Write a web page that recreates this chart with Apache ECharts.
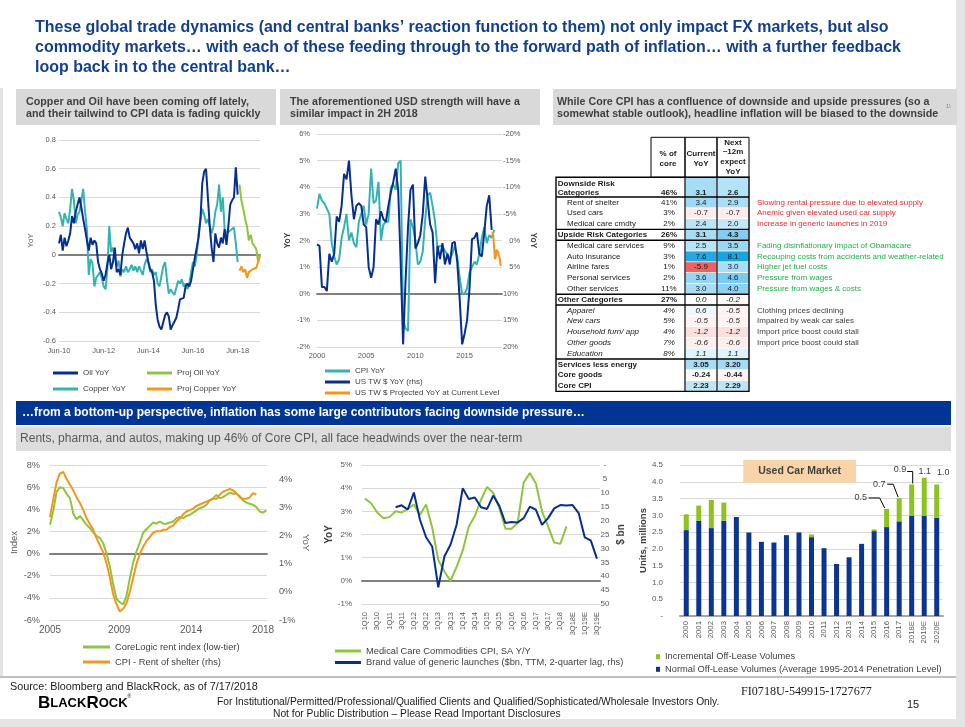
<!DOCTYPE html>
<html><head><meta charset="utf-8">
<script src="https://cdn.jsdelivr.net/npm/echarts@6/dist/echarts.min.js"></script>
<style>html,body{margin:0;padding:0;background:#fff}#c{width:965px;height:727px}</style>
</head><body><div id="c"></div><script>
// ---------------- DATA ----------------
const titleLines = [
  'These global trade dynamics (and central banks\u2019 reaction function to them) not only impact FX markets, but also',
  'commodity markets\u2026 with each of these feeding through to the forward path of inflation\u2026 with a further feedback',
  'loop back in to the central bank\u2026'
];
const panelTitles = [
  ['Copper and Oil have been coming off lately,', 'and their tailwind to CPI data is fading quickly'],
  ['The aforementioned USD strength will have a', 'similar impact in 2H 2018'],
  ['While Core CPI has a confluence of downside and upside pressures (so a', 'somewhat stable outlook), headline inflation will be biased to the downside']
];
const bannerText = '\u2026from a bottom-up perspective, inflation has some large contributors facing downside pressure\u2026';
const subHeaderText = 'Rents, pharma, and autos, making up 46% of Core CPI, all face headwinds over the near-term';

// Chart 1: monthly from Jun-10
const oilYoY = [0.08,0.14,0.03,0.12,0.06,0.10,0.15,0.27,0.22,0.30,0.35,0.40,
 0.33,0.25,0.18,0.10,0.03,0.12,0.07,0.10,0.08,-0.05,-0.10,-0.13,
 -0.18,-0.14,-0.06,0.0,-0.10,-0.05,0.05,-0.12,-0.10,-0.14,0.0,0.08,
 0.15,0.19,0.12,0.13,0.08,0.04,0.08,0.01,0.10,0.04,0.10,0.02,
 -0.05,-0.10,-0.12,-0.18,-0.35,-0.45,-0.50,-0.52,-0.53,-0.42,-0.40,-0.43,
 -0.52,-0.49,-0.50,-0.44,-0.38,-0.31,-0.30,-0.30,-0.22,-0.20,-0.22,-0.18,
 -0.10,-0.02,0.05,0.12,0.25,0.50,0.58,0.60,0.40,0.20,0.05,-0.05,
 0.15,0.08,0.05,0.12,0.08,0.18,0.07,0.20,0.35,0.38,0.40,0.61,0.42];
const copperYoY = [0.30,0.26,0.20,0.29,0.25,0.22,0.32,0.46,0.38,0.22,0.28,0.30,
 0.38,0.46,0.30,0.18,-0.14,-0.03,-0.06,-0.22,-0.16,-0.14,-0.12,-0.16,
 -0.22,-0.24,-0.10,0.20,0.02,0.05,-0.02,-0.08,-0.04,-0.15,-0.10,-0.12,
 -0.08,-0.12,-0.10,-0.07,-0.11,-0.08,-0.12,-0.08,-0.11,-0.14,-0.07,-0.03,
 -0.05,-0.12,-0.10,-0.14,-0.12,-0.20,-0.22,-0.15,-0.08,-0.05,-0.17,-0.27,
 -0.24,-0.26,-0.28,-0.23,-0.18,-0.20,-0.17,-0.22,-0.20,-0.24,-0.20,-0.12,
 -0.05,-0.08,0.00,0.15,0.25,0.32,0.28,0.22,0.25,0.20,0.15,0.20,
 0.30,0.35,0.49,0.30,0.40,0.18,0.15,0.14,0.17,0.18,0.19,0.08,-0.05];
const projOilYoY = [0.49,0.38,0.32,0.25,0.20,0.10,0.14,0.08,0.06,0.04,-0.05,0.00];
const projCopperYoY = [-0.11,-0.08,-0.12,-0.10,-0.16,-0.12,-0.11,-0.10,-0.10,-0.09,-0.05,0.00];
const c1StartYear = 10;   // Jun-10

// Chart 2: quarterly from 2000
const cpiYoY = [3.2,3.75,3.5,3.4,3.2,3.0,1.9,1.4,1.1,1.3,
 2.1,2.5,3.0,2.0,2.3,1.9,1.75,2.7,3.0,3.3,
 2.6,3.0,4.7,3.4,3.5,4.2,2.0,2.6,2.7,2.7,
 4.0,4.1,3.9,4.9,5.0,-1.0,-1.3,-1.4,2.8,2.5,
 2.0,1.1,1.2,1.6,2.8,3.7,3.8,3.3,2.7,1.7,
 1.8,1.8,1.6,1.5,1.3,1.5,1.8,1.4,0.6,0.0,
 0.0,0.2,0.8,1.0,1.2,1.1,1.5,2.1,2.5,1.9,
 2.2,2.1,2.4];
const usdYoY = [0.75,1.0,8.75,8.75,9.5,2.5,4.0,2.5,-4.5,-3.5,
 -6.5,-12.5,-11.5,-15.0,-8.5,-4.0,-6.5,-7.0,-6.5,-3.0,
 -2.5,5.0,7.0,5.0,-4.0,-3.0,-5.5,-4.0,-3.5,-6.5,
 -9.0,-11.0,-13.5,-9.5,4.0,19.5,7.5,-2.5,-9.5,-10.5,
 1.5,0.5,-1.0,-5.0,-12.0,-7.5,-3.0,-1.5,8.0,1.0,
 3.5,0.5,4.5,2.5,4.5,0.5,0.25,4.0,11.0,19.5,
 17.5,15.0,9.0,-0.25,-0.5,-1.5,2.5,3.0,-1.5,-6.5,
 -8.5,-2.0];
const usdProjYoY = [-1.6,-1.0,1.5,3.5,3.0,1.75,1.5,2.25,2.0,3.5,4.75]; // monthly from Nov-2017
const c2Start = 2000, usdProjStart = 2017 + 10/12;

// Table
const tblHeaders = ['% of\ncore', 'Current\nYoY', 'Next\n~12m\nexpect\nYoY'];
const tblNames = ['Downside Risk\nCategories','Rent of shelter','Used cars','Medical care cmdty','Upside Risk Categories',
 'Medical care services','Auto insurance','Airline fares','Personal services','Other services','Other Categories',
 'Apparel','New cars','Household furn/ app','Other goods','Education','Services less energy','Core goods','Core CPI'];
const tblShare = ['46%','41%','3%','2%','26%','9%','3%','1%','2%','11%','27%','4%','5%','4%','7%','8%','','',''];
const tblCurrent = ['3.1','3.4','-0.7','2.4','3.1','2.5','7.6','-5.9','3.6','3.0','0.0','0.6','-0.5','-1.2','-0.6','1.1','3.05','-0.24','2.23'];
const tblNext = ['2.6','2.9','-0.7','2.0','4.3','3.5','8.1','3.0','4.6','4.0','-0.2','-0.5','-0.5','-1.2','-0.6','1.1','3.20','-0.44','2.29'];
const tblNotes = ['','Slowing rental pressure due to elevated supply','Anemic given elevated used car supply','Increase in generic launches in 2019','',
 'Fading disinflationary impact of Obamacare','Recouping costs from accidents and weather-related','Higher jet fuel costs','Pressure from wages','Pressure from wages & costs','',
 'Clothing prices declining','Impaired by weak car sales','Import price boost could stall','Import price boost could stall','','','',''];
const tblKind = ['group','down','down','down','group','up','up','up','up','up','groupI','other','other','other','other','other','total','total','total'];

// Chart 4: every 2.5 months from Jan-2005
const rentIndexLowTier = [2.6,3.9,5.6,6.0,5.9,5.4,5.0,3.6,3.1,3.4,3.0,2.6,2.3,1.9,1.6,1.4,0.9,0.0,-1.2,-2.8,
 -4.1,-4.4,-4.6,-3.8,-2.2,-0.8,0.2,1.0,1.9,2.2,2.5,2.8,2.7,2.9,2.7,2.7,2.8,2.9,3.2,3.3,
 3.2,3.4,3.5,3.7,3.9,4.1,4.2,4.4,4.8,5.0,5.3,5.0,5.1,5.3,5.5,5.4,5.4,5.2,4.8,4.6,
 4.5,4.4,4.2,3.8,3.7,3.9];
const cpiRentShelter = [2.65,3.3,3.9,4.2,4.25,4.0,3.8,3.6,3.35,3.15,2.9,2.6,2.4,2.2,1.9,1.65,1.4,1.0,0.5,-0.1,
 -0.45,-0.7,-0.6,-0.4,0.0,0.5,1.0,1.35,1.6,1.8,1.95,2.1,2.15,2.15,2.2,2.2,2.3,2.35,2.5,2.6,
 2.75,2.85,2.9,2.95,3.05,3.1,3.15,3.2,3.25,3.3,3.3,3.45,3.55,3.6,3.65,3.6,3.5,3.35,3.3,3.3,
 3.35,3.5,3.45];
const c4StepMonths = 2.5;
const c4TickMonths = [0, 52, 106, 160];
const c4TickLabels = ['2005', '2009', '2014', '2018'];

// Chart 5: quarterly
const medQuarters = ['1Q10','2Q10','3Q10','4Q10','1Q11','2Q11','3Q11','4Q11','1Q12','2Q12','3Q12','4Q12',
 '1Q13','2Q13','3Q13','4Q13','1Q14','2Q14','3Q14','4Q14','1Q15','2Q15','3Q15','4Q15','1Q16','2Q16','3Q16','4Q16',
 '1Q17','2Q17','3Q17','4Q17','1Q18','2Q18','3Q18E','4Q18E','1Q19E','2Q19E','3Q19E'];
const medCareCPI = [3.55,3.35,2.95,2.7,2.75,3.0,2.95,3.1,3.3,2.85,3.3,2.3,0.9,0.4,0.0,0.6,1.3,2.35,2.8,3.5,
 4.05,3.8,3.15,2.25,2.25,2.5,4.25,4.65,4.2,3.0,2.35,1.65,1.6,2.35];
const brandValue = [null,null,null,null,null,15.2,14.5,16.0,9.9,19.7,26.0,29.3,44.0,32.9,28.7,21.5,8.4,12.2,11.7,15.2,
 15.8,11.0,14.7,20.9,20.5,20.7,19.1,15.0,16.1,21.5,19.1,15.6,14.4,14.6,14.4,17.3,26.0,27.2,33.7];

// Chart 6
const carYears = ['2000','2001','2002','2003','2004','2005','2006','2007','2008','2009','2010','2011','2012','2013','2014','2015','2016','2017','2018E','2019E','2020E'];
const normalOffLease = [2.56,2.84,2.62,2.84,2.95,2.49,2.21,2.19,2.41,2.49,2.35,2.02,1.55,1.75,2.15,2.53,2.65,2.82,2.99,2.99,2.93];
const incrementalOffLease = [0.47,0.45,0.84,0.54,0,0.01,0,0,0,0,0.08,0,0,0,0,0.05,0.54,0.69,0.93,1.13,0.99];
const labeledCarYears = ['2016','2017','2018E','2019E','2020E'];

const footerSource = 'Source: Bloomberg and BlackRock, as of 7/17/2018';
const footerLines = ['For Institutional/Permitted/Professional/Qualified Clients and Qualified/Sophisticated/Wholesale Investors Only.',
  'Not for Public Distribution \u2013 Please Read Important Disclosures'];
const footerCode = 'FI0718U-549915-1727677';
const pageNumber = '15';

// ---------------- STYLE / HELPERS ----------------
const FONT = "'Liberation Sans', Arial, Helvetica, sans-serif";
const mctx = document.createElement('canvas').getContext('2d');
function hasFont(name){
  const s = 'abcdefghijklmnopqrstuvwxyzABCDEFGHIJ0123456789';
  mctx.font = '20px monospace'; const w1 = mctx.measureText(s).width;
  mctx.font = "20px '" + name + "', monospace"; const w2 = mctx.measureText(s).width;
  return Math.abs(w1 - w2) > 0.5;
}
const NARROW = hasFont('Liberation Sans Narrow') ? "'Liberation Sans Narrow', " + FONT : FONT;
function fitSize(text, weight, family, target){
  mctx.font = weight + ' 100px ' + family;
  return 100 * target / mctx.measureText(text).width;
}
const C = { navy:'#062F8F', teal:'#35B3B0', green:'#8CC63F', orange:'#F7941D', grid:'#D9D9D9', zero:'#7F7F7F', lab:'#595959', txt:'#404040' };

function T(x, y, text, o){
  return { type:'text', x:x, y:y, silent:true, z:20,
    style: Object.assign({ text:text, fontFamily:FONT, fontSize:8, fill:C.txt, align:'left', verticalAlign:'middle' }, o || {}) };
}
function R(x, y, w, h, fill, o){
  return Object.assign({ type:'rect', silent:true, z:1, shape:{x:x, y:y, width:w, height:h}, style:{ fill:fill } }, o || {});
}
function Ln(x1, y1, x2, y2, stroke, lw){
  return { type:'line', silent:true, z:25, shape:{x1:x1, y1:y1, x2:x2, y2:y2}, style:{ stroke:stroke, lineWidth:lw } };
}
function mix(a, b, t){
  const pa = [1,3,5].map(i => parseInt(a.substr(i,2),16)), pb = [1,3,5].map(i => parseInt(b.substr(i,2),16));
  return 'rgb(' + pa.map((v,i) => Math.round(v + (pb[i]-v)*t)).join(',') + ')';
}
function heat(s){
  const v = parseFloat(s);
  if (v >= 0) return mix('#FFFFFF', '#0A9FE2', Math.min(v/8.5, 1));
  return mix('#FFFFFF', '#EE5A5A', Math.min(-v/6.2, 1));
}

// ---------------- GRAPHICS ----------------
const G = [];
// page frame
G.push(R(956, 0, 9, 727, '#E4E4E4', {z:-5}));
G.push(R(0, 719, 965, 8, '#E4E4E4', {z:-5}));
G.push(R(0, 88, 3, 589, '#E4E4E4', {z:-5}));
G.push(R(0, 676, 956, 2, '#BFBFBF', {z:-5}));

// title
const tSize = fitSize(titleLines[0], 'bold', NARROW, 854);
titleLines.forEach((t, i) => G.push(T(35, 28 + i*20, t, { fontFamily:NARROW, fontWeight:'bold', fontSize:tSize, fill:'#123F91' })));

// panel headers
const hdrBoxes = [[16, 276, 26, 223], [280, 540, 290, 230], [553, 957, 557, 373]];
hdrBoxes.forEach((b, k) => {
  G.push(R(b[0], 89, b[1]-b[0], 36, '#D9D9D9', {z:-2}));
  const fs = fitSize(panelTitles[k][0], 'bold', FONT, b[3]);
  panelTitles[k].forEach((t, j) => G.push(T(b[2], 102 + j*12, t, { fontWeight:'bold', fontSize:fs, fill:C.txt })));
});
G.push(T(946, 106, '1\\', { fontSize:5.5, fill:'#808080' }));

// banner and subheader
G.push(R(16, 401, 935, 24, '#003594', {z:-2}));
G.push(T(22, 413, bannerText, { fontWeight:'bold', fill:'#FFFFFF', fontSize:fitSize(bannerText, 'bold', FONT, 563) }));
G.push(R(16, 426.5, 935, 24.5, '#DDDDDD', {z:-2}));
G.push(T(20, 439, subHeaderText, { fill:'#595959', fontSize:fitSize(subHeaderText, 'normal', FONT, 503) }));

// table
(function(){
  const xL = 556, xP = 651, xC = 685, xN = 717, xR = 749;
  const rowTop = i => i === 0 ? 177.3 : 197 + (i-1)*10.8;
  const rowH = i => i === 0 ? 19.7 : 10.8;
  const yEnd = rowTop(tblNames.length);
  // header boxes
  [[xP, xC], [xC, xN], [xN, xR]].forEach(c => G.push(R(c[0], 137.3, c[1]-c[0], 40, 'none', {z:25, style:{fill:'none', stroke:'#000', lineWidth:1}})));
  const hdrCenters = [(xP+xC)/2, (xC+xN)/2, (xN+xR)/2];
  tblHeaders.forEach((h, k) => {
    const ls = h.split('\n');
    const y0 = ls.length === 2 ? 153.7 : 142.5;
    ls.forEach((s, j) => G.push(T(hdrCenters[k], y0 + j*9.6, s, { align:'center', fontWeight:'bold', fill:'#1A1A1A' })));
  });
  const noteCol = { down:'#EE2A2A', up:'#20B04B', other:'#404040' };
  tblNames.forEach((name, i) => {
    const top = rowTop(i), h = rowH(i), kind = tblKind[i];
    const yc = i === 0 ? 192.3 : top + h/2;
    G.push(R(xC + 0.6, top + 0.4, xN - xC - 1.2, h - 0.8, heat(tblCurrent[i]), {z:2}));
    G.push(R(xN + 0.6, top + 0.4, xR - xN - 1.2, h - 0.8, heat(tblNext[i]), {z:2}));
    const isBold = kind === 'group' || kind === 'groupI' || kind === 'total';
    const isItal = kind === 'other';
    const labX = isBold ? xL + 1.8 : xL + 11;
    const base = { fontWeight: isBold ? 'bold' : 'normal', fontStyle: isItal ? 'italic' : 'normal', fill:'#1A1A1A' };
    if (i === 0) {
      name.split('\n').forEach((s, j) => G.push(T(labX, 183.3 + j*9, s, base)));
    } else {
      G.push(T(labX, yc, name, base));
    }
    G.push(T((xP+xC)/2 + 1, yc, tblShare[i], Object.assign({}, base, { align:'center' })));
    const vStyle = Object.assign({}, base, { align:'center' });
    if (kind === 'groupI') { vStyle.fontWeight = 'normal'; vStyle.fontStyle = 'italic'; }
    G.push(T((xC+xN)/2, yc, tblCurrent[i], vStyle));
    G.push(T((xN+xR)/2, yc, tblNext[i], vStyle));
    if (tblNotes[i]) G.push(T(757, yc, tblNotes[i], { fill: noteCol[kind] }));
  });
  // borders
  G.push(R(xL, 177.3, xR - xL, yEnd - 177.3, 'none', {z:25, style:{fill:'none', stroke:'#000', lineWidth:1.4}}));
  G.push(Ln(xC, 177.3, xC, yEnd, '#000', 1.2));
  G.push(Ln(xN, 177.3, xN, yEnd, '#000', 1.2));
  tblKind.forEach((k, i) => {
    if (i > 0 && (k !== tblKind[i-1]) && !(k.indexOf('group') === 0 && tblKind[i-1] === 'total'))
      G.push(Ln(xL, rowTop(i), xR, rowTop(i), '#000', 1.4));
  });
})();

// Used car market box
G.push(R(743.3, 460, 112.7, 22.7, '#F9D4A8', {z:3}));
G.push(T(799.6, 471.3, 'Used Car Market', { align:'center', fontWeight:'bold', fontSize:10.5, fill:'#404040' }));

// footer
G.push(T(10, 687, footerSource, { fontFamily:NARROW, fontSize:fitSize(footerSource, 'normal', NARROW, 248), fill:'#1A1A1A' }));
const fz = fitSize(footerLines[0], 'normal', NARROW, 503);
G.push(T(217, 702.5, footerLines[0], { fontFamily:NARROW, fontSize:fz, fill:'#1A1A1A' }));
G.push(T(273, 714.5, footerLines[1], { fontFamily:NARROW, fontSize:fz, fill:'#1A1A1A' }));
G.push(T(741, 692, footerCode, { fontFamily:"'Liberation Serif', 'Times New Roman', serif", fontSize:fitSize(footerCode, 'normal', "'Liberation Serif', serif", 131), fill:'#1A1A1A' }));
G.push(T(907, 705, pageNumber, { fontFamily:NARROW, fontSize:11, fill:'#1A1A1A' }));
G.push({ type:'text', x:38, y:703, silent:true, z:20, style:{ text:'{a|B}{b|LACK}{a|R}{b|OCK}{c|\u00AE}', verticalAlign:'middle', align:'left',
  rich:{ a:{ fontFamily:FONT, fontWeight:'bold', fontSize:17, fill:'#000' }, b:{ fontFamily:FONT, fontWeight:'bold', fontSize:13, fill:'#000' }, c:{ fontFamily:FONT, fontSize:5, fill:'#000', verticalAlign:'top' } } } });

// ---------------- CHART OPTION ----------------
const axLab = (o) => Object.assign({ fontFamily:FONT, fontSize:7.5, color:C.lab }, o || {});
const noLine = { show:false, onZero:false };
const zeroAxis = (g) => ({ gridIndex:g, type:'value', position:'bottom', min:0, max:1, axisLabel:{show:false}, axisTick:{show:false}, splitLine:{show:false},
  axisLine:{ show:true, onZero:true, lineStyle:{ color:C.zero, width:2 } } });
const split = { show:true, lineStyle:{ color:C.grid, width:1 } };
const lineSeries = (name, xi, yi, data, color, z) => ({ name:name, type:'line', xAxisIndex:xi, yAxisIndex:yi, data:data, showSymbol:false, symbol:'none',
  lineStyle:{ color:color, width:2 }, itemStyle:{ color:color }, silent:true, z:z || 2, connectNulls:false });
const legendItem = (name, left, yc, fs, w, icon, ih) => ({ data:[name], left:left, top:yc - 5.5, padding:0, itemWidth:w, itemHeight:ih || 3, icon:icon || 'rect',
  selectedMode:false, textStyle:{ fontFamily:FONT, fontSize:fs, color:C.txt, lineHeight:11 } });
const yName = (o) => Object.assign({ fontFamily:FONT, color:C.lab, fontSize:8 }, o);
const labelOffsets = { '2016':[-26,-11], '2017':[-20,-14], '2018E':[-11.6,-15], '2019E':[0.5,-6], '2020E':[6.6,-12] };

const option = {
  animation:false,
  backgroundColor:'#ffffff',
  grid:[
    { left:59, top:140, width:201, height:201 },
    { left:317, top:134, width:185, height:213 },
    { left:50, top:465, width:217, height:155 },
    { left:362, top:465, width:238, height:139 },
    { left:680, top:465, width:263, height:151 }
  ],
  xAxis:[
    { gridIndex:0, type:'value', min:0, max:108, interval:24, axisLine:noLine, axisTick:{show:false}, splitLine:{show:false},
      axisLabel:axLab({ margin:6, formatter:v => (v % 24 === 0) ? 'Jun-' + String(c1StartYear + v/12).padStart(2,'0') : '' }) },
    zeroAxis(0),
    { gridIndex:1, type:'value', min:c2Start, max:2018.8, interval:5, axisLine:noLine, axisTick:{show:false}, splitLine:{show:false},
      axisLabel:axLab({ margin:5, formatter:v => (Math.abs(v % 5) < 1e-6) ? String(v) : '' }) },
    zeroAxis(1),
    { gridIndex:2, type:'value', min:0, max:163, axisLine:noLine, axisTick:{show:false}, splitLine:{show:false},
      axisLabel:axLab({ fontSize:10, margin:5, customValues:c4TickMonths, formatter:v => { const k = c4TickMonths.indexOf(v); return k >= 0 ? c4TickLabels[k] : ''; } }) },
    zeroAxis(2),
    { gridIndex:3, type:'category', data:medQuarters, boundaryGap:true, axisLine:noLine, axisTick:{show:false}, splitLine:{show:false},
      axisLabel:axLab({ rotate:90, interval:1, margin:8 }) },
    zeroAxis(3),
    { gridIndex:4, type:'category', data:carYears, boundaryGap:true, axisTick:{show:false}, splitLine:{show:false},
      axisLine:{ show:true, lineStyle:{ color:'#A6A6A6', width:2 } }, axisLabel:axLab({ rotate:90, interval:0, margin:5, fontSize:7.8 }) }
  ],
  yAxis:[
    { gridIndex:0, type:'value', min:-0.6, max:0.8, interval:0.2, axisLine:noLine, axisTick:{show:false}, splitLine:split,
      axisLabel:axLab({ margin:3, formatter:v => Math.abs(v) < 1e-9 ? '0' : v.toFixed(1) }),
      name:'YoY', nameLocation:'middle', nameGap:24, nameTextStyle:yName({ fontSize:8 }) },
    { gridIndex:1, type:'value', min:-2, max:6, interval:1, axisLine:noLine, axisTick:{show:false}, splitLine:split,
      axisLabel:axLab({ margin:7, formatter:'{value}%' }),
      name:'YoY', nameLocation:'middle', nameGap:25, nameTextStyle:yName({ fontSize:8.5, fontWeight:'bold', color:C.txt }) },
    { gridIndex:1, type:'value', position:'right', inverse:true, min:-20, max:20, interval:5, axisLine:noLine, axisTick:{show:false}, splitLine:{show:false},
      axisLabel:axLab({ margin:1, formatter:v => ((v >= 0 && v < 10) ? '\u2007 ' : '') + v + '%' }),
      name:'YoY', nameLocation:'middle', nameGap:27, nameRotate:-90, nameTextStyle:yName({ fontSize:8.5, fontWeight:'bold', color:C.txt }) },
    { gridIndex:2, type:'value', min:-6, max:8, interval:2, axisLine:noLine, axisTick:{show:false}, splitLine:split,
      axisLabel:axLab({ fontSize:9.2, margin:10, formatter:'{value}%' }),
      name:'Index', nameLocation:'middle', nameGap:30, nameTextStyle:yName({ fontSize:9.5 }) },
    { gridIndex:2, type:'value', position:'right', min:-1, max:4.5, interval:1, axisLine:noLine, axisTick:{show:false}, splitLine:{show:false},
      axisLabel:axLab({ fontSize:9.2, margin:12, formatter:v => Number.isInteger(v) ? v + '%' : '' }),
      name:'YoY', nameLocation:'middle', nameGap:34, nameRotate:-90, nameTextStyle:yName({ fontSize:9.5 }) },
    { gridIndex:3, type:'value', min:-1, max:5, interval:1, axisLine:noLine, axisTick:{show:false}, splitLine:split,
      axisLabel:axLab({ fontSize:8, margin:10, formatter:'{value}%' }),
      name:'YoY', nameLocation:'middle', nameGap:27, nameTextStyle:yName({ fontSize:10, fontWeight:'bold', color:C.txt }) },
    { gridIndex:3, type:'value', position:'right', inverse:true, min:0, max:50, interval:5, axisLine:noLine, axisTick:{show:false}, splitLine:{show:false},
      axisLabel:axLab({ fontSize:8, margin:5, align:'center', formatter:v => v === 0 ? '-' : String(v) }),
      name:'$ bn', nameLocation:'middle', nameGap:16, nameRotate:90, nameTextStyle:yName({ fontSize:10, fontWeight:'bold', color:C.txt }) },
    { gridIndex:4, type:'value', min:0, max:4.5, interval:0.5, axisLine:noLine, axisTick:{show:false}, splitLine:split,
      axisLabel:axLab({ fontSize:8, margin:17, formatter:v => v === 0 ? '-' : v.toFixed(1) }),
      name:'Units, millions', nameLocation:'middle', nameGap:31, nameTextStyle:yName({ fontSize:9.5, fontWeight:'bold', color:C.txt }) }
  ],
  legend:[
    legendItem('Oil YoY', 53, 373, 8, 25),
    legendItem('Proj Oil YoY', 147, 373, 8, 25),
    legendItem('Copper YoY', 53, 389, 8, 25),
    legendItem('Proj Copper YoY', 147, 389, 8, 25),
    legendItem('CPI YoY', 325, 371, 8, 25),
    legendItem('US TW $ YoY (rhs)', 325, 382, 8, 25),
    legendItem('US TW $ Projected YoY at Current Level', 325, 393, 8, 25),
    legendItem('CoreLogic rent index (low-tier)', 83, 647, 9.3, 27),
    legendItem('CPI - Rent of shelter (rhs)', 83, 662, 9.3, 27),
    legendItem('Medical Care Commodities CPI, SA Y/Y', 335, 651, 9.3, 26),
    legendItem('Brand value of generic launches ($bn, TTM, 2-quarter lag, rhs)', 335, 662.5, 9.3, 26),
    legendItem('Incremental Off-Lease Volumes', 656, 656.7, 9.3, 4, 'rect', 5),
    legendItem('Normal Off-Lease Volumes (Average 1995-2014 Penetration Level)', 656, 669.3, 9.3, 4, 'rect', 5)
  ],
  series:[
    lineSeries('Copper YoY', 0, 0, copperYoY.map((v,i) => [i, v]), C.teal),
    lineSeries('Oil YoY', 0, 0, oilYoY.map((v,i) => [i, v]), C.navy, 3),
    lineSeries('Proj Oil YoY', 0, 0, projOilYoY.map((v,i) => [oilYoY.length + i, v]), C.green),
    lineSeries('Proj Copper YoY', 0, 0, projCopperYoY.map((v,i) => [copperYoY.length + i, v]), C.orange),

    lineSeries('CPI YoY', 2, 1, cpiYoY.map((v,i) => [c2Start + i/4, v]), C.teal),
    lineSeries('US TW $ YoY (rhs)', 2, 2, usdYoY.map((v,i) => [c2Start + i/4, v]), C.navy, 3),
    lineSeries('US TW $ Projected YoY at Current Level', 2, 2, usdProjYoY.map((v,i) => [usdProjStart + i/12, v]), C.orange),

    lineSeries('CoreLogic rent index (low-tier)', 4, 3, rentIndexLowTier.map((v,i) => [i*c4StepMonths, v]), C.green),
    lineSeries('CPI - Rent of shelter (rhs)', 4, 4, cpiRentShelter.map((v,i) => [i*c4StepMonths, v]), C.orange, 3),

    lineSeries('Medical Care Commodities CPI, SA Y/Y', 6, 5, medCareCPI, C.green),
    lineSeries('Brand value of generic launches ($bn, TTM, 2-quarter lag, rhs)', 6, 6, brandValue, C.navy, 3),

    { name:'Normal Off-Lease Volumes (Average 1995-2014 Penetration Level)', type:'bar', stack:'cars', xAxisIndex:8, yAxisIndex:7,
      data:normalOffLease, barWidth:5, itemStyle:{ color:'#0B3592' }, silent:true },
    { name:'Incremental Off-Lease Volumes', type:'bar', stack:'cars', xAxisIndex:8, yAxisIndex:7, barWidth:5, itemStyle:{ color:'#8DC21F' }, silent:true,
      data:incrementalOffLease.map((v,i) => labeledCarYears.indexOf(carYears[i]) >= 0
        ? { value:v, label:{ show:true, position:'top', formatter:p => p.value.toFixed(1), fontFamily:FONT, fontSize:9, color:C.txt } } : v),
      labelLayout:p => {
        const off = labelOffsets[carYears[p.dataIndex]];
        if (!off) return {};
        return { x:p.rect.x + p.rect.width/2 + off[0], y:p.rect.y + off[1], align:'center', verticalAlign:'middle' };
      } }
  ],
  graphic:{ elements:G }
};

const chart = echarts.init(document.getElementById('c'), null, { renderer:'canvas' });
chart.setOption(option);

// leader lines for used-car labels, positioned through the chart's own axes
const leaders = [];
const leaderShape = { '2016':[8,19,-2,-1], '2017':[8,14,-1,-1], '2018E':[7,14,0,-1] };
carYears.forEach((yr, i) => {
  const s = leaderShape[yr]; if (!s) return;
  const top = chart.convertToPixel({ xAxisIndex:8, yAxisIndex:7 }, [i, normalOffLease[i] + incrementalOffLease[i]]);
  const off = labelOffsets[yr];
  const lx = top[0] + off[0], ly = top[1] + off[1];
  const pts = yr === '2018E'
    ? [[lx + s[0], ly + 2], [top[0] + 1, ly + 2], [top[0] + 1, top[1] - 1]]
    : [[lx + s[0], ly], [lx + s[1], ly], [top[0] + s[2], top[1] + s[3]]];
  leaders.push({ type:'polyline', silent:true, z:30, shape:{ points:pts }, style:{ stroke:'#000', lineWidth:1, fill:null } });
});
chart.setOption({ graphic:{ elements:G.concat(leaders) } });
</script></body></html>
